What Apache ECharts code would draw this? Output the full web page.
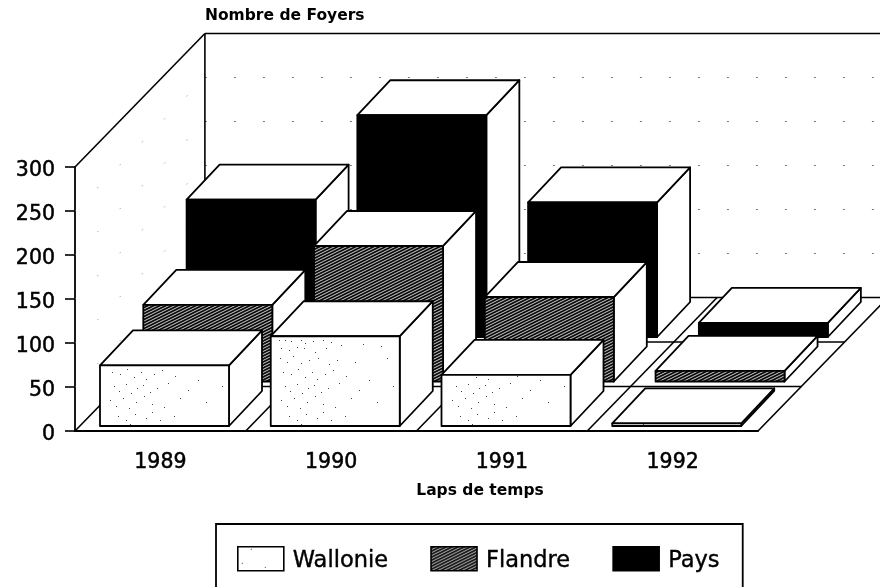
<!DOCTYPE html>
<html>
<head>
<meta charset="utf-8">
<style>
  html, body { margin: 0; padding: 0; background: #fff; }
  #main { width: 880px; height: 587px; }
</style>
<script src="https://cdn.jsdelivr.net/npm/echarts@6/dist/echarts.min.js"></script>
</head>
<body>
<div id="main"></div>
<script>
var years = ['1989', '1990', '1991', '1992'];
var wallonie = [69, 102, 58, 3];
var flandre = [87, 154, 96, 12];
var pays = [156, 252, 153, 16];

var myChart = echarts.init(document.getElementById('main'));

// 3d look: each row of bars is pushed back by this many pixels
var ROW_DX = 43.3, ROW_DY = 44.5;
var BAR_W = 129, BAR_INSET = 25, BAR_LIFT = 5;
var DEPTH_DX = 33, DEPTH_DY = 35;

// speckle of the scan, clustered on the left of each front face
function dotsPattern() {
    var c = document.createElement('canvas');
    c.width = 171; c.height = 120;
    var g = c.getContext('2d');
    g.fillStyle = '#fff';
    g.fillRect(0, 0, 171, 120);
    g.fillStyle = '#444';
    var dots = [[8, 4], [14, 4], [20, 5], [30, 4], [34, 7], [42, 5], [52, 4], [60, 6], [10, 12], [18, 14],
        [26, 11], [33, 12], [44, 16], [55, 12], [70, 9], [92, 8], [110, 10], [9, 22], [16, 26], [22, 20],
        [30, 27], [38, 24], [47, 22], [58, 28], [66, 24], [84, 26], [116, 22], [12, 36], [20, 38], [27, 33],
        [34, 41], [41, 36], [46, 43], [54, 38], [62, 34], [75, 40], [98, 44], [14, 50], [19, 55], [26, 48],
        [31, 57], [37, 52], [43, 49], [50, 56], [57, 52], [68, 47], [88, 54], [122, 50], [10, 64], [16, 70],
        [23, 62], [29, 72], [36, 66], [44, 60], [52, 68], [64, 71], [80, 62], [106, 66], [18, 80], [26, 84],
        [35, 78], [46, 82], [60, 84], [74, 80], [30, 88], [52, 76]];
    dots.forEach(function (d) { g.fillRect((d[0] + 100) % 171, (d[1] + 336) % 120, 1, 1); });
    return { image: c, repeat: 'repeat' };
}

function hatchPattern() {
    var c = document.createElement('canvas');
    c.width = 6; c.height = 3;
    var g = c.getContext('2d');
    g.fillStyle = '#0c0c0c';
    g.fillRect(0, 0, 6, 3);
    g.strokeStyle = '#fff';
    g.lineWidth = 0.8;
    for (var i = -1; i <= 1; i++) {
        g.beginPath();
        g.moveTo(-2 + i * 6, 3 + 1);
        g.lineTo(8 + i * 6, -1);
        g.stroke();
    }
    return { image: c, repeat: 'repeat' };
}

var dotsFill = dotsPattern();
var hatchFill = hatchPattern();

function poly(points, fill) {
    return {
        type: 'polygon',
        shape: { points: points },
        style: { fill: fill, stroke: '#000', lineWidth: 1.8, lineJoin: 'round' }
    };
}

function line(a, b, dash, width) {
    return {
        type: 'line',
        shape: { x1: a[0], y1: a[1], x2: b[0], y2: b[1] },
        style: { stroke: dash ? '#777' : '#000', lineWidth: width || 1.6, lineDash: dash || null }
    };
}

// one row of boxes, row 0 is the front one
function boxRow(row, fill) {
    return function (params, api) {
        var cat = api.value(0);
        var base = api.coord([cat, 0]);
        var top = api.coord([cat, api.value(1)]);
        var slot = api.size([1, 0])[0];
        var x0 = base[0] - slot / 2 + BAR_INSET + row * ROW_DX;
        var shift = BAR_LIFT + row * ROW_DY;
        var y0 = base[1] - shift;
        var y1 = top[1] - shift;
        var x1 = x0 + BAR_W;
        return {
            type: 'group',
            children: [
                poly([[x1, y0], [x1 + DEPTH_DX, y0 - DEPTH_DY], [x1 + DEPTH_DX, y1 - DEPTH_DY], [x1, y1]], '#fff'),
                poly([[x0, y1], [x0 + DEPTH_DX, y1 - DEPTH_DY], [x1 + DEPTH_DX, y1 - DEPTH_DY], [x1, y1]], '#fff'),
                poly([[x0, y0], [x1, y0], [x1, y1], [x0, y1]], fill)
            ]
        };
    };
}

// walls and floor, built from the axis scales
function frame(params, api) {
    var o = api.coord([0, 0]);
    var slot = api.size([1, 0])[0];
    var left = o[0] - slot / 2;
    var zero = o[1];
    var step = zero - api.coord([0, 50])[1];
    var top = api.coord([0, 300])[1];
    var backDx = ROW_DX * 3;
    var backDy = ROW_DY * 3;
    var right = left + slot * years.length;
    var kids = [];
    var i;
    // the scan only kept a few specks of the wall grid
    for (i = 1; i <= 6; i++) {
        var yy = zero - step * i;
        kids.push(line([left, yy], [left + backDx, yy - backDy], [1, 31], 1));
        kids.push(line([left + backDx, yy - backDy], [880, yy - backDy], [2, 27], 1));
    }
    kids.push(line([left, top], [left + backDx, top - backDy]));
    kids.push(line([left + backDx, top - backDy], [880, top - backDy]));
    kids.push(line([left + backDx, top - backDy], [left + backDx, zero - backDy]));
    // floor
    kids.push(line([left, zero], [left + backDx, zero - backDy]));
    kids.push(line([left + backDx, zero - backDy], [880, zero - backDy]));
    for (i = 1; i <= years.length; i++) {
        kids.push(line([left + slot * i, zero], [left + slot * i + backDx, zero - backDy]));
    }
    for (i = 1; i <= 2; i++) {
        kids.push(line([left + i * ROW_DX, zero - i * ROW_DY], [right + i * ROW_DX, zero - i * ROW_DY]));
    }
    return { type: 'group', children: kids };
}

var labelStyle = { fontSize: 20.5, color: '#000', textBorderColor: '#000', textBorderWidth: 0.5 };

var option = {
    animation: false,
    backgroundColor: '#fff',
    textStyle: { fontFamily: 'DejaVu Sans', color: '#000' },
    grid: { left: 75, top: 167, width: 683, height: 264 },
    legend: {
        left: 216,
        top: 524,
        // the bottom edge of the box falls outside the picture
        padding: [22, 23, 40, 21],
        itemWidth: 46,
        itemHeight: 24,
        itemGap: 42,
        borderColor: '#000',
        borderWidth: 1.8,
        formatter: '{t|{name}}',
        textStyle: {
            fontSize: 22.5, color: '#000',
            rich: { t: { fontSize: 22.5, color: '#000', textBorderColor: '#000', textBorderWidth: 0.4, padding: [4, 0, 0, 4] } }
        },
        data: [
            { name: 'Wallonie', icon: 'rect', itemStyle: { color: dotsFill, borderColor: '#000', borderWidth: 1.6 } },
            { name: 'Flandre', icon: 'rect', itemStyle: { color: hatchFill, borderColor: '#000', borderWidth: 1.6 } },
            { name: 'Pays', icon: 'rect', itemStyle: { color: '#000', borderColor: '#000', borderWidth: 1.6 } }
        ]
    },
    xAxis: {
        type: 'category',
        data: years,
        name: 'Laps de temps',
        nameLocation: 'middle',
        nameGap: 52,
        nameTextStyle: { fontSize: 15.5, fontWeight: 'bold', color: '#000', padding: [0, 0, 0, 127] },
        axisLine: { lineStyle: { color: '#000', width: 1.8 } },
        axisTick: { alignWithLabel: true, length: 10, lineStyle: { color: '#000', width: 1.6 } },
        axisLabel: Object.assign({ margin: 21 }, labelStyle),
        splitLine: { show: false }
    },
    yAxis: {
        type: 'value',
        min: 0,
        max: 300,
        interval: 50,
        name: 'Nombre de Foyers',
        nameLocation: 'end',
        nameGap: 143,
        nameTextStyle: { fontSize: 15.5, fontWeight: 'bold', color: '#000', align: 'left', padding: [0, 0, 0, 130] },
        axisLine: { show: true, lineStyle: { color: '#000', width: 1.8 } },
        axisTick: { show: true, length: 10, lineStyle: { color: '#000', width: 1.6 } },
        axisLabel: {
            margin: 20,
            formatter: '{v|{value}}',
            rich: { v: Object.assign({ padding: [7, 0, 0, 0] }, labelStyle) }
        },
        splitLine: { show: false }
    },
    series: [
        { type: 'custom', name: 'frame', silent: true, clip: false, z: 1, renderItem: frame, data: [[0, 0]] },
        {
            type: 'custom', name: 'Pays', clip: false, z: 2, renderItem: boxRow(2, '#000'),
            itemStyle: { color: '#000' },
            data: pays.map(function (v, i) { return [i, v]; })
        },
        {
            type: 'custom', name: 'Flandre', clip: false, z: 3, renderItem: boxRow(1, hatchFill),
            itemStyle: { color: hatchFill },
            data: flandre.map(function (v, i) { return [i, v]; })
        },
        {
            type: 'custom', name: 'Wallonie', clip: false, z: 4, renderItem: boxRow(0, dotsFill),
            itemStyle: { color: dotsFill },
            data: wallonie.map(function (v, i) { return [i, v]; })
        }
    ]
};

myChart.setOption(option);
</script>
</body>
</html>
